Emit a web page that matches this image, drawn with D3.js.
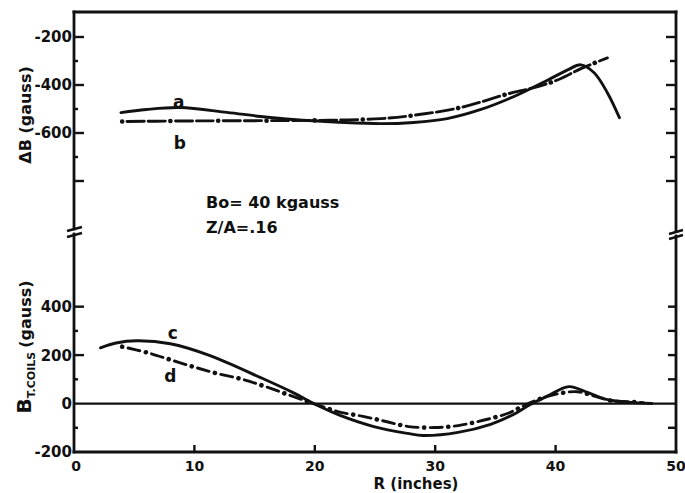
<!DOCTYPE html>
<html>
<head>
<meta charset="utf-8">
<script src="https://cdn.jsdelivr.net/npm/d3@7/dist/d3.min.js"></script>
<style>
  html, body { margin: 0; padding: 0; background: #fff; }
  svg { display: block; }
  text { font-family: "DejaVu Sans", sans-serif; font-weight: bold; fill: #111; }
</style>
</head>
<body>
<script>
// Radial position R (inches) and field values for the four curves
const R_a = [3.9, 6, 8.8, 12.7, 15.5, 18.2, 22, 25.5, 28.2, 31, 33.8, 36.5, 39.4, 41, 42.1, 43.2, 44.3, 45.3];
const dB_a = [-515, -502, -494, -514, -531, -544, -555, -561, -556, -540, -502, -449, -378, -337, -316, -349, -432, -536];

const R_b = [4, 8.8, 13, 18.2, 22, 25.5, 28.1, 32.1, 36.1, 38.2, 40.2, 42.1, 44.3];
const dB_b = [-552, -550, -549, -548, -546, -540, -527, -494, -436, -411, -378, -332, -287];

const R_c = [2.2, 3.5, 5.2, 8, 11.3, 15.5, 18.2, 19.9, 22.1, 24.9, 27.7, 29, 31.9, 34.6, 36.5, 37.9, 39.4, 41.1, 42.7, 44.3, 46, 48];
const Bt_c = [230, 250, 259, 247, 198, 107, 45, 0, -49, -95, -123, -132, -119, -86, -45, -4, 33, 70, 45, 16, 6, 0];

const R_d = [4, 6.1, 8, 9.9, 11.9, 14, 15.9, 18, 19.9, 21.9, 24, 25.9, 27.8, 29.9, 31.9, 33.9, 36, 37.9, 39.9, 41.8, 43.3, 44.6, 46, 47.3];
const Bt_d = [235, 210, 181, 152, 124, 100, 70, 33, 0, -33, -53, -74, -95, -99, -91, -70, -41, 4, 37, 49, 30, 12, 8, 4];

const xTicks = [0, 10, 20, 30, 40, 50];
const upperLabelTicks = [-200, -400, -600];
const upperMajorTicks = [-200, -400, -600, -800];
const upperMinorTicks = [-300, -500, -700];
const upperRightTicks = [-200, -300, -400, -500, -600, -700, -800];
const lowerLabelTicks = [400, 200, 0, -200];
const lowerMajorTicks = [400, 200];
const lowerMinorTicks = [300, 100, -100];
const lowerRightTicks = [400, 300, 200, 100, -100];

const W = 685, H = 493;
const plotL = 74, plotR = 676, plotT = 12, plotB = 452;

const svg = d3.select("body").append("svg").attr("width", W).attr("height", H);
svg.append("rect").attr("width", W).attr("height", H).attr("fill", "#fff");

const x = d3.scaleLinear().domain([0, 50]).range([plotL, plotR]);
const yU = d3.scaleLinear().domain([-1000, -100]).range([229, plotT + 1]);
const yL = d3.scaleLinear().domain([-200, 700]).range([plotB, 234]);

const ink = "#111";
const g = svg.append("g");

// frame
const frame = g.append("g").attr("stroke", ink).attr("stroke-width", 2.8).attr("fill", "none").attr("stroke-linecap", "square");
frame.append("line").attr("x1", plotL).attr("x2", plotR).attr("y1", plotT).attr("y2", plotT);
frame.append("line").attr("x1", plotL).attr("x2", plotR).attr("y1", plotB).attr("y2", plotB);
frame.append("line").attr("x1", plotL).attr("x2", plotL).attr("y1", plotT).attr("y2", 229);
frame.append("line").attr("x1", plotL).attr("x2", plotL).attr("y1", 234).attr("y2", plotB);
frame.append("line").attr("x1", plotR).attr("x2", plotR).attr("y1", plotT).attr("y2", 231);
frame.append("line").attr("x1", plotR).attr("x2", plotR).attr("y1", 236).attr("y2", plotB);

// axis break marks
const brk = g.append("g").attr("stroke", ink).attr("stroke-width", 2.4);
[[plotL, 229], [plotL, 235]].forEach(([cx, cy]) =>
  brk.append("line").attr("x1", cx - 7).attr("y1", cy + 2).attr("x2", cx + 8).attr("y2", cy - 2));
[[plotR, 232], [plotR, 237]].forEach(([cx, cy]) =>
  brk.append("line").attr("x1", cx - 7).attr("y1", cy + 2).attr("x2", cx + 7).attr("y2", cy - 2));

// zero line of the lower panel
g.append("line").attr("x1", plotL).attr("x2", plotR)
  .attr("y1", yL(0)).attr("y2", yL(0)).attr("stroke", ink).attr("stroke-width", 2.2);

// ticks
const tk = g.append("g").attr("stroke", ink).attr("stroke-width", 2.4);
upperMajorTicks.forEach(v => tk.append("line").attr("x1", plotL).attr("x2", plotL + 10).attr("y1", yU(v)).attr("y2", yU(v)));
upperMinorTicks.forEach(v => tk.append("line").attr("x1", plotL).attr("x2", plotL + 4).attr("y1", yU(v)).attr("y2", yU(v)));
upperRightTicks.forEach(v => tk.append("line").attr("x1", plotR).attr("x2", plotR - (v % 200 === 0 ? 10 : 6)).attr("y1", yU(v)).attr("y2", yU(v)));
lowerMajorTicks.forEach(v => tk.append("line").attr("x1", plotL).attr("x2", plotL + 10).attr("y1", yL(v)).attr("y2", yL(v)));
lowerMinorTicks.forEach(v => tk.append("line").attr("x1", plotL).attr("x2", plotL + 4).attr("y1", yL(v)).attr("y2", yL(v)));
lowerRightTicks.forEach(v => tk.append("line").attr("x1", plotR).attr("x2", plotR - 8).attr("y1", yL(v)).attr("y2", yL(v)));
xTicks.slice(1, -1).forEach(v => tk.append("line").attr("x1", x(v)).attr("x2", x(v)).attr("y1", plotB).attr("y2", plotB - 7));

// tick labels
const lab = g.append("g").attr("font-size", 15);
upperLabelTicks.forEach(v => lab.append("text").attr("x", plotL - 2).attr("y", yU(v)).attr("dy", "0.36em")
  .attr("text-anchor", "end").text(v));
lowerLabelTicks.forEach(v => lab.append("text").attr("x", plotL - 2).attr("y", yL(v)).attr("dy", "0.36em")
  .attr("text-anchor", "end").text(v));
xTicks.forEach(v => lab.append("text").attr("x", x(v) + (v === 0 ? 2 : 0)).attr("y", 471)
  .attr("font-size", 14).attr("text-anchor", "middle").text(v));

// axis titles
svg.append("text").attr("font-size", 16).attr("text-anchor", "middle")
  .attr("transform", "translate(31,115) rotate(-90)").text("ΔB (gauss)");
const t2 = svg.append("text").attr("font-size", 16).attr("text-anchor", "middle")
  .attr("transform", "translate(31,347) rotate(-90)");
t2.append("tspan").attr("font-size", 20).text("B");
t2.append("tspan").attr("font-size", 11).attr("dy", 4).text("T.COILS");
t2.append("tspan").attr("dy", -4).attr("dx", 4).text("(gauss)");
svg.append("text").attr("font-size", 15).attr("text-anchor", "middle")
  .attr("x", 416).attr("y", 489).text("R (inches)");

// curves
const line = (xs, ys, yScale) => d3.line().curve(d3.curveCatmullRom.alpha(0.5))
  .x((d, i) => x(xs[i])).y((d, i) => yScale(ys[i]))(xs);

const curves = g.append("g").attr("fill", "none").attr("stroke", ink).attr("stroke-linecap", "round");
curves.append("path").attr("d", line(R_a, dB_a, yU)).attr("stroke-width", 2.9);
curves.append("path").attr("d", line(R_c, Bt_c, yL)).attr("stroke-width", 2.9);

// dash-dot curves: dashes plus heavier dots laid on the same path
const dashDot = (d, pattern, period) => {
  curves.append("path").attr("d", d).attr("stroke-width", 2.9).attr("stroke-dasharray", pattern);
  curves.append("path").attr("d", d).attr("stroke-width", 4.6).attr("stroke-dasharray", `0.1 ${period - 0.1}`);
};
dashDot(line(R_b, dB_b, yU), "0.1 5 17 4 17 5", 48.1);
dashDot(line(R_d, Bt_d, yL), "0.1 6 12 6", 24.1);

// curve letters
const letters = [["a", 8.7, -470, yU], ["b", 8.8, -640, yU], ["c", 8.2, 290, yL], ["d", 8.0, 115, yL]];
const lg = g.append("g").attr("font-size", 17).attr("text-anchor", "middle");
letters.forEach(([t, r, v, s]) => lg.append("text").attr("x", x(r)).attr("y", s(v)).attr("dy", "0.35em").text(t));

// parameters
const notes = g.append("g").attr("font-size", 16);
notes.append("text").attr("x", 206).attr("y", 208).text("Bo= 40 kgauss");
notes.append("text").attr("x", 206).attr("y", 233).text("Z/A=.16");
</script>
</body>
</html>
